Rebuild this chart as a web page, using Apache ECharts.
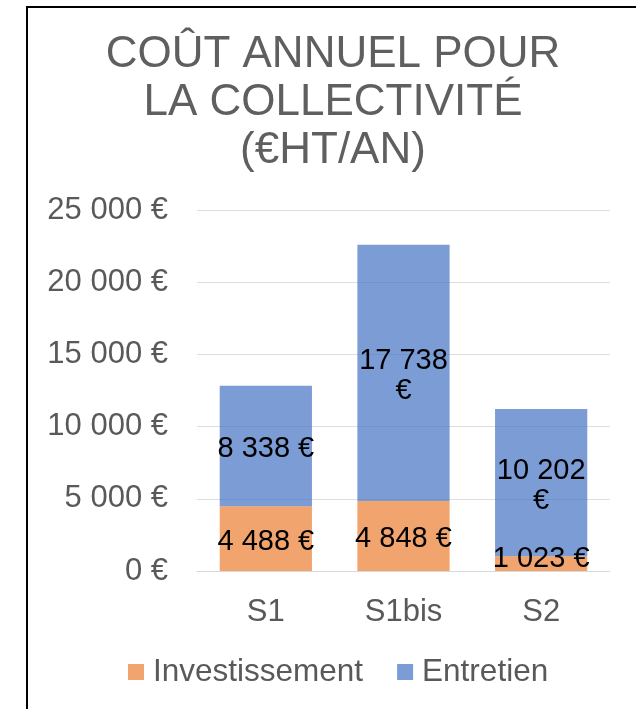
<!DOCTYPE html>
<html>
<head>
<meta charset="utf-8">
<script src="https://cdn.jsdelivr.net/npm/echarts@6/dist/echarts.min.js"></script>
<style>
  html, body { margin: 0; padding: 0; background: #fff; }
  #chart { width: 636px; height: 709px; }
</style>
</head>
<body>
<div id="chart"></div>
<script>
// Scénarios et coûts annuels (€HT/an)
const categories = ['S1', 'S1bis', 'S2'];
const investissement = [4488, 4848, 1023];
const entretien = [8338, 17738, 10202];
const yTicks = [0, 5000, 10000, 15000, 20000, 25000];

const FONT = '"Liberation Sans", Arial, sans-serif';

function euro(v) {
  return String(v).replace(/\B(?=(\d{3})+(?!\d))/g, ' ') + ' €';
}

// Five-digit amounts are too wide for a bar: the € sign goes on its own line
function barLabel(v) {
  const s = euro(v);
  return v >= 10000 ? s.replace(/ €$/, '\n€') : s;
}

// Small segments keep their label sitting on the axis rather than hanging below it
function segData(values) {
  return values.map(v => v < 2000
    ? { value: v, label: { position: 'insideBottom', distance: 0 } }
    : v);
}

const labelStyle = {
  show: true,
  position: 'inside',
  color: '#000',
  opacity: 1,
  fontFamily: FONT,
  fontSize: 29,
  lineHeight: 30,
  offset: [0, 3],
  formatter: p => barLabel(p.value)
};

const chart = echarts.init(document.getElementById('chart'));
chart.setOption({
  animation: false,
  backgroundColor: '#fff',
  textStyle: { fontFamily: FONT },
  title: {
    text: 'COÛT ANNUEL POUR\nLA COLLECTIVITÉ\n(€HT/AN)',
    left: 333,
    textAlign: 'center',
    top: 31,
    padding: 0,
    textStyle: {
      fontFamily: FONT,
      fontSize: 44,
      fontWeight: 'normal',
      lineHeight: 48,
      color: '#5f5f5f'
    }
  },
  legend: {
    left: 128,
    top: 656,
    padding: 0,
    itemWidth: 16,
    itemHeight: 16,
    itemGap: 34,
    icon: 'rect',
    textStyle: {
      fontFamily: FONT,
      fontSize: 31.5,
      color: '#595959',
      padding: [0, 0, 0, 4]
    },
    data: ['Investissement', 'Entretien']
  },
  grid: { left: 197, right: 26, top: 210, bottom: 138 },
  xAxis: {
    type: 'category',
    data: categories,
    axisTick: { show: false },
    axisLine: { lineStyle: { color: '#d9d9d9', width: 1 } },
    axisLabel: {
      margin: 26,
      fontFamily: FONT,
      fontSize: 31,
      color: '#595959'
    }
  },
  yAxis: {
    type: 'value',
    min: yTicks[0],
    max: yTicks[yTicks.length - 1],
    interval: yTicks[1] - yTicks[0],
    axisLine: { show: false },
    axisTick: { show: false },
    splitLine: { lineStyle: { color: '#dedede', width: 1 } },
    axisLabel: {
      margin: 29,
      fontFamily: FONT,
      fontSize: 31,
      color: '#595959',
      formatter: v => euro(v)
    }
  },
  series: [
    {
      name: 'Investissement',
      type: 'bar',
      stack: 'total',
      barWidth: '67%',
      data: segData(investissement),
      itemStyle: { color: 'rgba(237,125,49,0.7)' },
      label: labelStyle
    },
    {
      name: 'Entretien',
      type: 'bar',
      stack: 'total',
      barWidth: '67%',
      data: segData(entretien),
      itemStyle: { color: 'rgba(68,114,196,0.7)' },
      label: labelStyle
    }
  ],
  graphic: [
    {
      type: 'rect',
      shape: { x: 27, y: 7, width: 700, height: 800 },
      style: { fill: 'none', stroke: '#000', lineWidth: 2 },
      silent: true
    }
  ]
});
</script>
</body>
</html>
